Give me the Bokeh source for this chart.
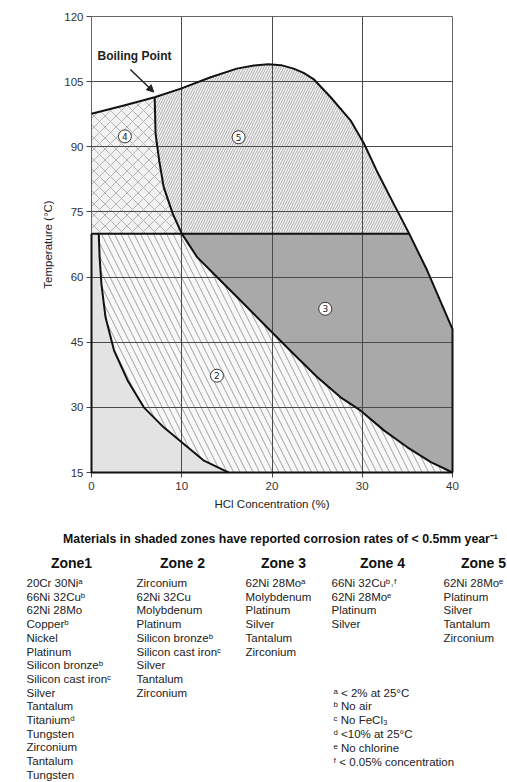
from bokeh.plotting import figure
from bokeh.models import Range1d, FixedTicker, ColumnDataSource, Arrow, NormalHead, Label
from bokeh.embed import file_html
from bokeh.resources import INLINE
from bokeh.core.properties import value

# ---------------- data ----------------
X_TICKS = [0, 10, 20, 30, 40]
Y_TICKS = [15, 30, 45, 60, 75, 90, 105, 120]
T_MIN, T_MAX = 15, 120
C_MIN, C_MAX = 0, 40
T_SPLIT = 70  # horizontal zone boundary

# boiling-point curve (HCl %, °C)
BOIL_X = [0.0, 3.6, 7.0, 9.9, 13.2, 16.1, 18.0, 19.6, 21.0, 22.4, 23.5, 24.6, 26.5, 28.7, 30.2, 31.6, 33.1, 35.2]
BOIL_Y = [97.6, 99.5, 101.4, 103.4, 106.0, 108.0, 108.7, 109.0, 108.8, 108.0, 107.0, 105.6, 101.4, 96.1, 90.7, 84.5, 78.4, 70.0]
# right edge of zone 3
EDGE3_X = [35.2, 37.2, 40.0, 40.0]
EDGE3_Y = [70.0, 61.5, 48.0, 15.0]
# zone 4 / zone 5 boundary
Z45_X = [7.0, 7.1, 7.5, 8.0, 9.0, 10.0]
Z45_Y = [101.4, 93.0, 86.8, 80.7, 74.6, 70.0]
# zone 2 / zone 3 boundary
Z23_X = [10.0, 11.7, 13.9, 16.9, 19.8, 22.4, 25.0, 27.6, 29.8, 32.4, 35.0, 37.6, 40.0]
Z23_Y = [70.0, 64.6, 60.0, 53.8, 47.7, 42.3, 37.0, 32.3, 29.3, 24.7, 20.8, 17.4, 15.0]
# zone 1 / zone 2 boundary
Z12_X = [0.8, 0.9, 1.1, 1.55, 2.5, 4.0, 5.8, 8.0, 10.2, 12.4, 14.7, 15.2]
Z12_Y = [70.0, 64.6, 58.4, 50.8, 43.1, 36.2, 30.0, 25.4, 21.6, 17.8, 15.5, 15.0]

ZONE_LABEL_TEXT = ["4", "5", "3", "2"]
ZONE_LABEL_X = [3.7, 16.3, 25.9, 13.9]
ZONE_LABEL_Y = [92.4, 92.2, 52.7, 37.3]

BP_TEXT = "Boiling Point"
BP_LABEL_X, BP_LABEL_Y = 4.76, 111.0
BP_ARROW = (4.3, 107.8, 6.9, 102.6)

TITLE = "Materials in shaded zones have reported corrosion rates of < 0.5mm year\u207b\u00b9"
HEADERS = ["Zone1", "Zone 2", "Zone 3", "Zone 4", "Zone 5"]
ZONE1 = ["20Cr 30Ni\u1d43", "66Ni 32Cu\u1d47", "62Ni 28Mo", "Copper\u1d47", "Nickel", "Platinum",
         "Silicon bronze\u1d47", "Silicon cast iron\u1d9c", "Silver", "Tantalum", "Titanium\u1d48",
         "Tungsten", "Zirconium", "Tantalum", "Tungsten"]
ZONE2 = ["Zirconium", "62Ni 32Cu", "Molybdenum", "Platinum", "Silicon bronze\u1d47",
         "Silicon cast iron\u1d9c", "Silver", "Tantalum", "Zirconium"]
ZONE3 = ["62Ni 28Mo\u1d43", "Molybdenum", "Platinum", "Silver", "Tantalum", "Zirconium"]
ZONE4 = ["66Ni 32Cu\u1d47\u02d2\u1da0", "62Ni 28Mo\u1d49", "Platinum", "Silver"]
ZONE5 = ["62Ni 28Mo\u1d49", "Platinum", "Silver", "Tantalum", "Zirconium"]
FOOTNOTES = ["\u1d43 < 2% at 25\u00b0C", "\u1d47 No air", "\u1d9c No FeCl\u2083",
             "\u1d48 <10% at 25\u00b0C", "\u1d49 No chlorine", "\u1da0 < 0.05% concentration"]

FONT = "Liberation Sans"

# ---------------- layout constants (page pixels) ----------------
W, H = 507, 782
CHART_H = 515
FRAME_L, FRAME_R, FRAME_T, FRAME_B = 91, 452, 16, 472

# ---------------- chart ----------------
p = figure(width=W, height=CHART_H, x_range=Range1d(C_MIN, C_MAX), y_range=Range1d(T_MIN, T_MAX),
           output_backend="svg", toolbar_location=None,
           min_border_left=FRAME_L, min_border_right=W - FRAME_R,
           min_border_top=FRAME_T, min_border_bottom=CHART_H - FRAME_B)
p.background_fill_color = "white"
p.border_fill_color = "white"
p.outline_line_color = "#666666"
p.outline_line_width = 1

j = BOIL_X.index(Z45_X[0])

# zone 1 (light grey)
p.patch([C_MIN, C_MIN] + Z12_X, [T_MIN, T_SPLIT] + Z12_Y, fill_color="#e3e3e3", line_color=None)

# zone 2 (sparse back-slash hatch)
p.patch(Z12_X + Z23_X[::-1], Z12_Y + Z23_Y[::-1], fill_color="#f8f8f8", line_color=None,
        hatch_pattern="\\", hatch_scale=13, hatch_weight=0.8, hatch_color="#8c8c8c")

# zone 3 (dark grey)
p.patch(Z23_X + EDGE3_X[::-1], Z23_Y + EDGE3_Y[::-1], fill_color="#a9a9a9", line_color=None)

# zone 5 (dense slash hatch)
p.patch(Z45_X + BOIL_X[:j:-1], Z45_Y + BOIL_Y[:j:-1], fill_color="#f4f4f4", line_color=None,
        hatch_pattern="/", hatch_scale=5, hatch_weight=0.8, hatch_color="#999999")

# zone 4 (cross hatch)
p.patch([C_MIN] + Z45_X[::-1] + BOIL_X[j - 1::-1], [T_SPLIT] + Z45_Y[::-1] + BOIL_Y[j - 1::-1],
        fill_color="#f2f2f2", line_color=None,
        hatch_pattern="x", hatch_scale=11, hatch_weight=0.7, hatch_color="#9a9a9a")

# grid above the fills
for g in (p.xgrid, p.ygrid):
    g.level = "guide"
    g.grid_line_color = "#4a4a4a"
    g.grid_line_width = 1
p.xaxis.ticker = FixedTicker(ticks=X_TICKS)
p.yaxis.ticker = FixedTicker(ticks=Y_TICKS)
p.xgrid.ticker = FixedTicker(ticks=X_TICKS)
p.ygrid.ticker = FixedTicker(ticks=Y_TICKS)

# zone boundary lines
bx = [BOIL_X + EDGE3_X, Z45_X, Z23_X, Z12_X, [C_MIN, C_MIN, C_MAX], [C_MIN, EDGE3_X[0]]]
by = [BOIL_Y + EDGE3_Y, Z45_Y, Z23_Y, Z12_Y, [T_SPLIT, T_MIN, T_MIN], [T_SPLIT, T_SPLIT]]
lr = p.multi_line(bx, by, line_color="#111111", line_width=2, line_join="round")
lr.level = "annotation"

# circled zone numbers
src = ColumnDataSource(dict(x=ZONE_LABEL_X, y=ZONE_LABEL_Y, t=ZONE_LABEL_TEXT))
cr = p.scatter("x", "y", source=src, marker="circle", size=13, fill_color="white",
               line_color="#222222", line_width=0.9)
cr.level = "annotation"
tr = p.text("x", "y", text="t", source=src, text_align="center", text_baseline="middle",
            text_font=value("DejaVu Sans"), text_font_size="9px", text_color="#222222")
tr.level = "annotation"

# boiling point annotation
p.add_layout(Label(x=BP_LABEL_X, y=BP_LABEL_Y, text=BP_TEXT, text_align="center",
                   text_baseline="middle", text_font=FONT, text_font_size="12px",
                   text_font_style="bold", text_color="#222222"))
p.add_layout(Arrow(end=NormalHead(size=7, fill_color="#222222", line_color="#222222"),
                   x_start=BP_ARROW[0], y_start=BP_ARROW[1], x_end=BP_ARROW[2], y_end=BP_ARROW[3],
                   line_color="#222222", line_width=1.5))

# axes
p.xaxis.axis_label = "HCl Concentration (%)"
p.yaxis.axis_label = "Temperature (\u00b0C)"
for ax in (p.xaxis, p.yaxis):
    ax.axis_label_text_font = FONT
    ax.axis_label_text_font_size = "11.5px"
    ax.axis_label_text_font_style = "normal"
    ax.axis_label_text_color = "#222222"
    ax.major_label_text_font = FONT
    ax.major_label_text_font_size = "11.5px"
    ax.major_label_text_color = "#333333"
    ax.axis_line_color = "#666666"
    ax.major_tick_line_color = "#444444"
    ax.major_tick_out = 5
    ax.major_tick_in = 0
    ax.minor_tick_line_color = None
    ax.major_label_standoff = 3
p.xaxis.major_label_standoff = 4
p.xaxis.axis_label_standoff = 5
p.yaxis.axis_label_standoff = 7

# ---------------- table of materials (second figure, page-pixel coordinates) ----------------
q = figure(width=W, height=H - CHART_H, x_range=Range1d(0, W), y_range=Range1d(H, CHART_H),
           output_backend="svg", toolbar_location=None, min_border=0,
           x_axis_location=None, y_axis_location=None)
q.outline_line_color = None
q.background_fill_color = "white"
q.border_fill_color = "white"
q.xgrid.visible = False
q.ygrid.visible = False

COL_X = [26, 136, 245, 331, 443]
HEAD_X = [71, 182, 283, 382, 483]
TITLE_X, TITLE_Y = 280, 538
HEAD_Y, ROW0, ROW_STEP = 562, 582.5, 13.7
FOOT_X, FOOT_Y0, FOOT_STEP = 333, 692, 13.8

q.text(x=[TITLE_X], y=[TITLE_Y], text=[TITLE], text_align="center", text_baseline="middle",
       text_font=value(FONT), text_font_size="12.3px", text_font_style="bold", text_color="#111111")
q.text(x=HEAD_X, y=[HEAD_Y] * len(HEAD_X), text=HEADERS, text_align="center", text_baseline="middle",
       text_font=value(FONT), text_font_size="14px", text_font_style="bold", text_color="#111111")

tx, ty, tt = [], [], []
for cx, items in zip(COL_X, [ZONE1, ZONE2, ZONE3, ZONE4, ZONE5]):
    for i, s in enumerate(items):
        tx.append(cx)
        ty.append(ROW0 + i * ROW_STEP)
        tt.append(s)
for i, s in enumerate(FOOTNOTES):
    tx.append(FOOT_X)
    ty.append(FOOT_Y0 + i * FOOT_STEP)
    tt.append(s)
q.text(x=tx, y=ty, text=tt, text_align="left", text_baseline="middle",
       text_font=value(FONT), text_font_size="11.5px", text_color="#222222")

open("out.html", "w").write(file_html([p, q], INLINE))
